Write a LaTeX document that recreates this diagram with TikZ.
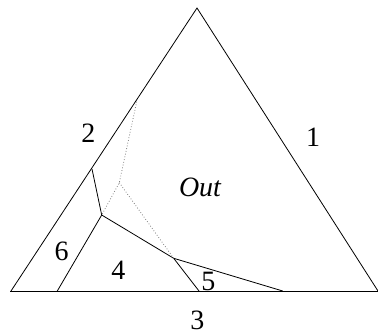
\documentclass[tikz,border=0pt]{standalone}
\usepackage{fontspec}
\setmainfont{Liberation Serif}
\begin{document}
\begin{tikzpicture}[x=1pt,y=-1pt,
  edge/.style={line width=0.8pt},
  dotedge/.style={line width=0.8pt,dotted,gray},
  lab/.style={font=\fontsize{28}{28}\selectfont,inner sep=0pt}]
\useasboundingbox (0,0) rectangle (378,332);
% triangle vertices and points
\coordinate (T) at (197,8);
\coordinate (L) at (11,291);
\coordinate (R) at (378,291);
\coordinate (Lx) at (10,291);
\coordinate (A) at (92,169);
\coordinate (B) at (101.7,215);
\coordinate (C) at (173.7,258.3);
\coordinate (D) at (199,291);
\coordinate (E) at (282.7,291);
\coordinate (F) at (57.3,291);
\coordinate (P) at (136.7,101.7);
\coordinate (Q) at (119.3,182.7);
% outline
\draw[edge] (L) -- (T) -- (R);
\draw[edge] (Lx) -- (R);
% region boundaries
\draw[edge] (A) -- (B) -- (C) -- (E);
\draw[edge] (B) -- (F);
\draw[edge] (C) -- (D);
% dotted boundaries
\draw[dotedge] (P) -- (Q) -- (B);
\draw[dotedge] (Q) -- (C);
% labels
\node[lab] (l2) at (88.3,133) {2};
\node[lab] (l1) at (313,137) {1};
\node[lab] (lout) at (200,187) {\itshape Out};
\node[lab] (l6) at (61.7,251.7) {6};
\node[lab] (l4) at (118.3,270) {4};
\node[lab] (l5) at (208.3,281.7) {5};
\node[lab] (l3) at (197.3,320) {3};
\end{tikzpicture}
\end{document}
